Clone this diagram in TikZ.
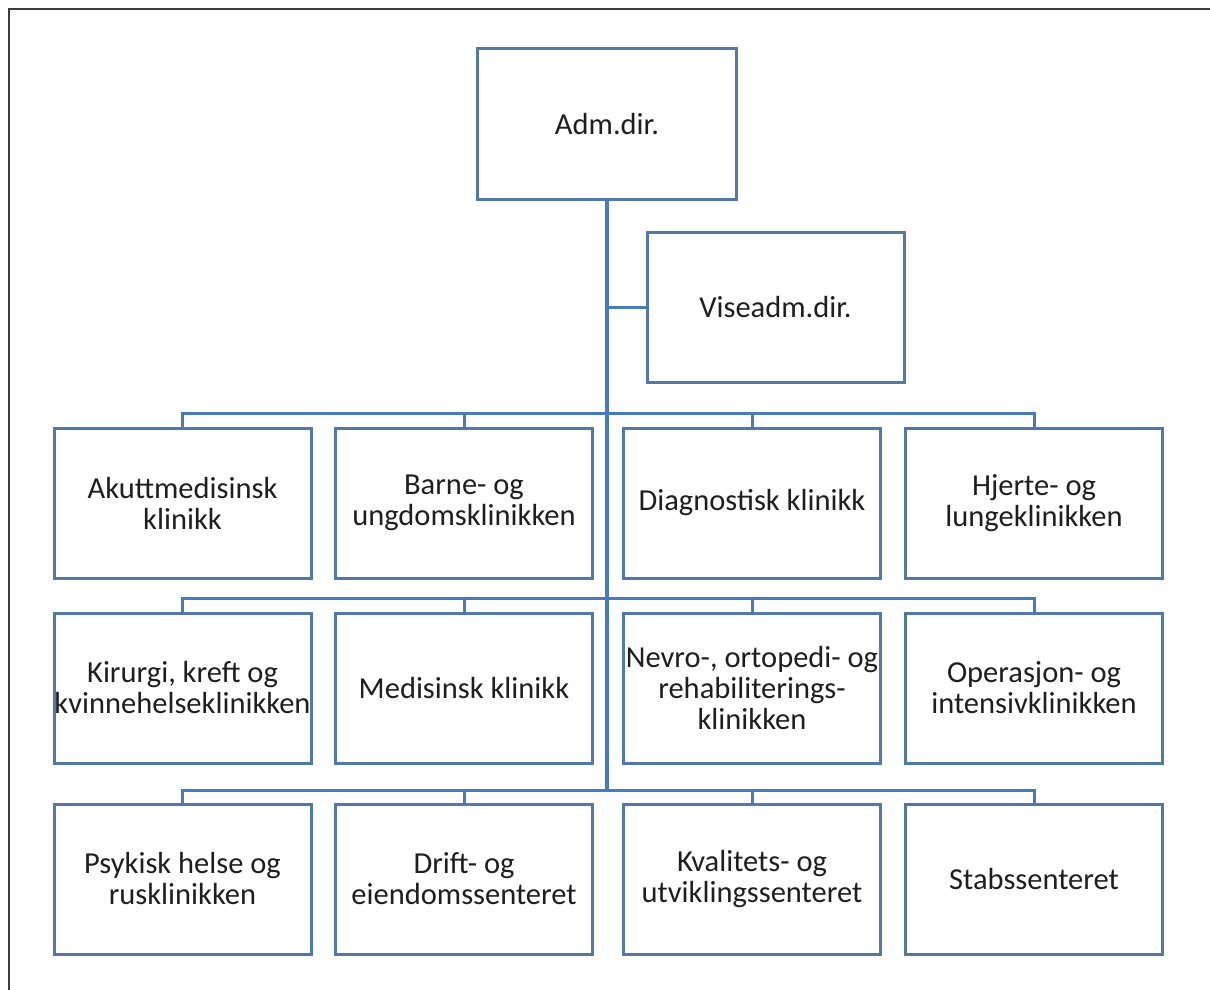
\documentclass[tikz,border=0pt]{standalone}
\usepackage{fontspec}
\setmainfont{Carlito}
\definecolor{boxline}{RGB}{82,121,166}
\definecolor{linkline}{RGB}{72,123,186}
\definecolor{frameline}{RGB}{60,60,60}
\definecolor{labeltext}{RGB}{30,30,30}
\begin{document}
\begin{tikzpicture}[x=1pt,y=-1pt,
  unitbox/.style={draw=boxline, line width=3pt, fill=white, minimum width=257pt,
    minimum height=150pt, align=center, inner sep=0pt, text=labeltext,
    font=\fontsize{30.5}{31}\selectfont},
  link/.style={draw=linkline, line width=3pt},
  trunkline/.style={draw=linkline, line width=4.5pt}]
\useasboundingbox (0,0) rectangle (1210,990);
\fill[white] (0,0) rectangle (1210,990);
% frame along the top and left edges
\draw[frameline, line width=2pt] (1210,9) -- (9,9) -- (9,990);

% management
\node[unitbox, minimum width=259pt] (adm) at (607,124) {Adm.dir.};
\node[unitbox] (vise) at (775.5,307) {Viseadm.dir.};

% clinics and centres
\node[unitbox] (r1a) at (182.5,503) {Akuttmedisinsk\\klinikk};
\node[unitbox] (r1b) at (464,503) {Barne- og\\ungdomsklinikken};
\node[unitbox] (r1c) at (752,503) {Diagnostisk klinikk};
\node[unitbox] (r1d) at (1034,503) {Hjerte- og\\lungeklinikken};

\node[unitbox] (r2a) at (182.5,688) {Kirurgi, kreft og\\kvinnehelseklinikken};
\node[unitbox] (r2b) at (464,688) {Medisinsk klinikk};
\node[unitbox] (r2c) at (752,688) {Nevro-, ortopedi- og\\rehabiliterings-\\klinikken};
\node[unitbox] (r2d) at (1034,688) {Operasjon- og\\intensivklinikken};

\node[unitbox] (r3a) at (182.5,879) {Psykisk helse og\\rusklinikken};
\node[unitbox] (r3b) at (464,879) {Drift- og\\eiendomssenteret};
\node[unitbox] (r3c) at (752,879) {Kvalitets- og\\utviklingssenteret};
\node[unitbox] (r3d) at (1034,879) {Stabssenteret};

% bus junctions on the trunk
\coordinate (b1) at (607,413);
\coordinate (b2) at (607,598);
\coordinate (b3) at (607,790);

% trunk and staff link
\draw[trunkline] (adm.south) -- (b3);
\draw[link] (vise.west) -- (vise.west -| b1);

% row buses
\draw[link] (r1a.north) |- (b1) -| (r1d.north);
\draw[link] (r1b.north) -- (r1b.north |- b1);
\draw[link] (r1c.north) -- (r1c.north |- b1);

\draw[link] (r2a.north) |- (b2) -| (r2d.north);
\draw[link] (r2b.north) -- (r2b.north |- b2);
\draw[link] (r2c.north) -- (r2c.north |- b2);

\draw[link] (r3a.north) |- (b3) -| (r3d.north);
\draw[link] (r3b.north) -- (r3b.north |- b3);
\draw[link] (r3c.north) -- (r3c.north |- b3);
\end{tikzpicture}
\end{document}
